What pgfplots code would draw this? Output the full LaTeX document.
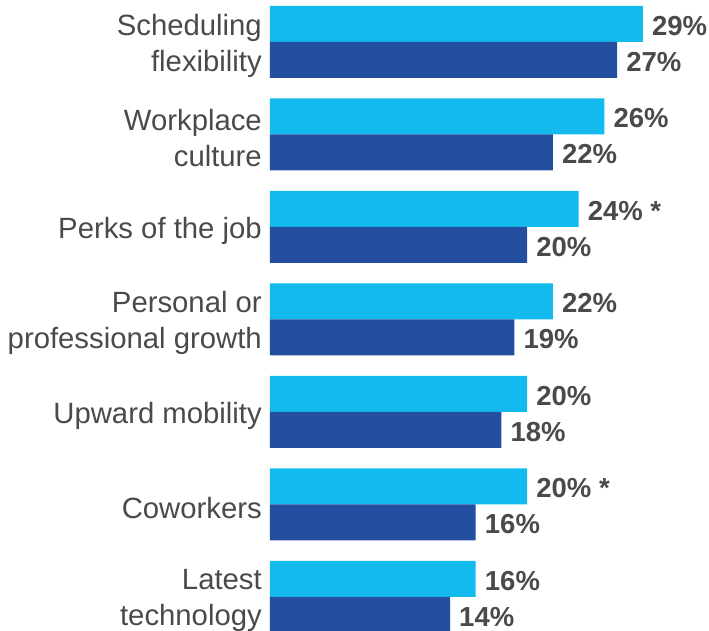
\documentclass[border=0pt]{standalone}
\usepackage{pgfplots}
\pgfplotsset{compat=1.18}
\usepackage{fontspec}
\setmainfont{Liberation Sans}
\definecolor{lightbar}{HTML}{13BAEE}
\definecolor{darkbar}{HTML}{244E9F}
\definecolor{txt}{HTML}{4A4A4A}

\begin{document}
\begin{tikzpicture}
\begin{axis}[name=ax, scale only axis, width=439pt, height=631pt,
  xmin=0, xmax=34.14, ymin=-0.368, ymax=6.454,
  xbar, bar width=36pt,
  axis line style={draw=none}, tick style={draw=none}, major tick length=0pt,
  xtick=\empty,
  ytick={0,1,2,3,4,5,6},
  yticklabels={{Latest\\technology},Coworkers,Upward mobility,
    {Personal or\\professional growth},Perks of the job,
    {Workplace\\culture},{Scheduling\\flexibility}},
  yticklabel style={align=right, inner sep=0pt, xshift=-8pt, yshift=-3.5pt, text=txt,
    font=\fontsize{29.3}{36}\selectfont},
  point meta=explicit symbolic,
  nodes near coords,
  every node near coord/.append style={anchor=west, inner sep=0pt, xshift=9pt,
    yshift=-2pt, text=txt, font=\fontsize{27.5}{30}\selectfont\bfseries},
  clip=false]
\addplot[draw=none, fill=lightbar, bar shift=18pt] coordinates {
  (29,6) [29\%]
  (26,5) [26\%]
  (24,4) [24\%\ *]
  (22,3) [22\%]
  (20,2) [20\%]
  (20,1) [20\%\ *]
  (16,0) [16\%]
};
\addplot[draw=none, fill=darkbar, bar shift=-18pt] coordinates {
  (27,6) [27\%]
  (22,5) [22\%]
  (20,4) [20\%]
  (19,3) [19\%]
  (18,2) [18\%]
  (16,1) [16\%]
  (14,0) [14\%]
};
\end{axis}
\pgfresetboundingbox
\path (ax.south west) ++(-270pt,0) rectangle (ax.north east);
\end{tikzpicture}
\end{document}
